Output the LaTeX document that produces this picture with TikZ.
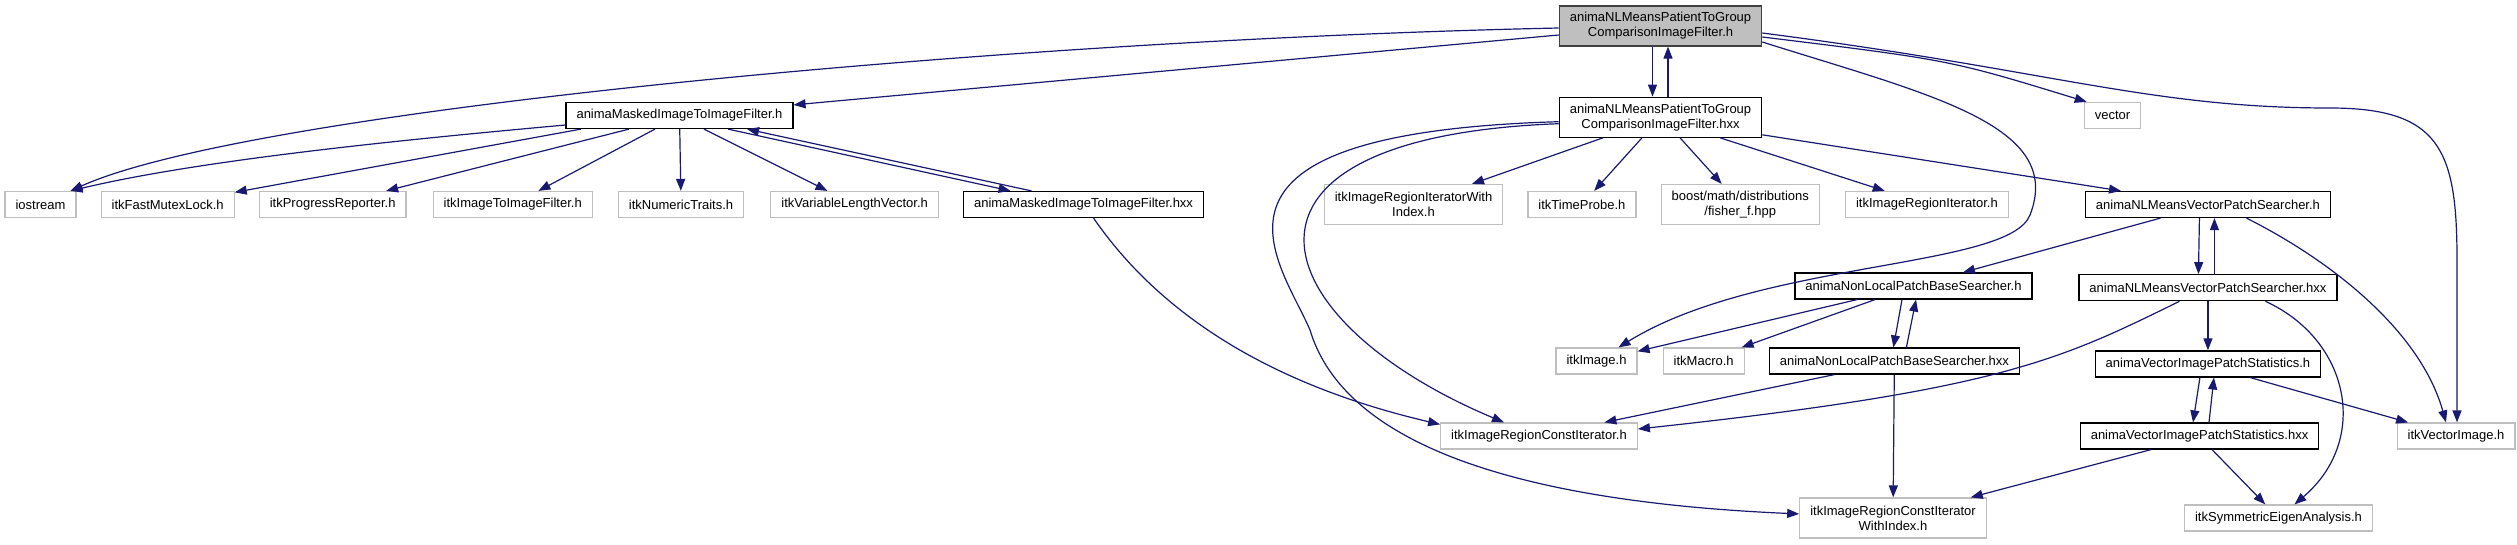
\documentclass[tikz,border=0pt]{standalone}
\usepackage{fontspec}
\setmainfont{Liberation Sans}
\usetikzlibrary{arrows.meta,positioning}

\definecolor{edgeblue}{HTML}{191970}
\definecolor{extgray}{HTML}{BFBFBF}
\definecolor{mainline}{HTML}{404040}

\begin{document}
\begin{tikzpicture}[
    x=1pt, y=-1pt,
    every node/.style={font=\fontsize{13}{15}\selectfont, inner xsep=10.5pt, inner ysep=2pt, minimum height=26pt, align=center},
    extbox/.style={rectangle, draw=extgray, line width=1.2pt, fill=white},
    filebox/.style={rectangle, draw=black, line width=1.2pt, fill=white},
    mainbox/.style={rectangle, draw=mainline, line width=1.2pt, fill=extgray, minimum height=40pt},
    twoline/.style={minimum height=40pt},
    arrow/.style={draw=edgeblue, line width=1.2pt, -{Triangle[length=12pt,width=9pt]}}
]
\useasboundingbox (0,0) rectangle (2517,544);

% Top: the header itself
\node [mainbox] (main) at (1660.5,26) {animaNLMeansPatientToGroup\\ComparisonImageFilter.h};
\node [filebox, twoline, below=50pt of main] (mainhxx) {animaNLMeansPatientToGroup\\ComparisonImageFilter.hxx};
\node [filebox] (maskh) at (679.5,115.5) {animaMaskedImageToImageFilter.h};
\node [extbox] (vector) at (2112.5,115.5) {vector};

% Second row of includes
\node [extbox] (iostream) at (40.5,204.5) {iostream};
\node [extbox, right=24pt of iostream] (mutexlock) {itkFastMutexLock.h};
\node [extbox, right=24pt of mutexlock] (progress) {itkProgressReporter.h};
\node [extbox, right=26pt of progress] (imgfilter) {itkImageToImageFilter.h};
\node [extbox, right=25pt of imgfilter] (numtraits) {itkNumericTraits.h};
\node [extbox, right=26pt of numtraits] (varvector) {itkVariableLengthVector.h};
\node [filebox, right=24pt of varvector] (maskhxx) {animaMaskedImageToImageFilter.hxx};
\node [extbox, twoline] (iterwi) at (1413.5,204.5) {itkImageRegionIteratorWith\\Index.h};
\node [extbox, right=24pt of iterwi] (timeprobe) {itkTimeProbe.h};
\node [extbox, twoline, right=24pt of timeprobe] (fisher) {boost/math/distributions\\/fisher\_f.hpp};
\node [extbox, right=25pt of fisher] (iter) {itkImageRegionIterator.h};
\node [filebox, right=76pt of iter] (searchh) {animaNLMeansVectorPatchSearcher.h};

% Searchers
\node [filebox] (baseh) at (1913.5,286) {animaNonLocalPatchBaseSearcher.h};
\node [filebox, below=56pt of searchh] (searchhxx) {animaNLMeansVectorPatchSearcher.hxx};

\node [extbox] (itkimage) at (1596.5,361) {itkImage.h};
\node [extbox, right=25pt of itkimage] (itkmacro) {itkMacro.h};
\node [filebox, right=24pt of itkmacro] (basehxx) {animaNonLocalPatchBaseSearcher.hxx};
\node [filebox, below=49pt of searchhxx] (statsh) {animaVectorImagePatchStatistics.h};

% Bottom rows
\node [extbox] (constiter) at (1539,436) {itkImageRegionConstIterator.h};
\node [filebox] (statshxx) at (2199.5,436) {animaVectorImagePatchStatistics.hxx};
\node [extbox] (vecimage) at (2456,436) {itkVectorImage.h};

\node [extbox, twoline] (constiterwi) at (1893,518) {itkImageRegionConstIterator\\WithIndex.h};
\node [extbox] (eigen) at (2278.5,518) {itkSymmetricEigenAnalysis.h};

% Main header includes
\draw [arrow] ([yshift=-2pt]main.west) .. controls (1000,40) and (250,110) .. ([xshift=-6pt]iostream.north east);
\draw [arrow] ([yshift=-9pt]main.west) -- ([yshift=-3pt]maskh.north east);
\draw [arrow] ([xshift=-8pt]main.south) -- ([xshift=-8pt]mainhxx.north);
\draw [arrow] ([xshift=7.5pt]mainhxx.north) -- ([xshift=7.5pt]main.south);
\draw [arrow] ([yshift=-11pt]main.east) .. controls (1950,60) .. ([xshift=3pt]vector.north west);
\draw [arrow] ([yshift=-16pt]main.east) .. controls (1930,95) and (2065,125) .. (2030,215)
    .. controls (2009,269) and (1760,260) .. (itkimage);
\draw [arrow] ([yshift=-7pt]main.east) .. controls (2050,70) and (2150,108) .. (2330,108)
    .. controls (2440,108) and (2457,150) .. (2457,260) -- ([xshift=1pt]vecimage.north);

% Implementation file includes
\draw [arrow] ([xshift=-57.5pt]mainhxx.south) -- (iterwi);
\draw [arrow] ([xshift=-18.5pt]mainhxx.south) -- (timeprobe);
\draw [arrow] ([xshift=19.5pt]mainhxx.south) -- (fisher);
\draw [arrow] ([xshift=59.5pt]mainhxx.south) -- (iter);
\draw [arrow] ([yshift=3pt]mainhxx.south east) -- (searchh);
\draw [arrow] ([yshift=-6.5pt]mainhxx.west) .. controls (1200,137) and (1260,320) .. ([xshift=-35pt]constiter.north);
\draw [arrow] ([yshift=-4.5pt]mainhxx.west) .. controls (1170,133) and (1280,260) .. (1310,330)
    .. controls (1340,430) and (1480,500) .. (constiterwi);

% Masked filter
\draw [arrow] ([yshift=-9.5pt]maskh.west) .. controls (400,140) and (200,160) .. ([xshift=-6pt]iostream.north east);
\draw [arrow] ([xshift=-98.5pt]maskh.south) -- (mutexlock);
\draw [arrow] ([xshift=-50.5pt]maskh.south) -- (progress);
\draw [arrow] ([xshift=-24.5pt]maskh.south) -- (imgfilter);
\draw [arrow] (maskh) -- (numtraits);
\draw [arrow] ([xshift=24.5pt]maskh.south) -- (varvector);
\draw [arrow] ([xshift=48.5pt]maskh.south) -- ([xshift=-73pt]maskhxx.north);
\draw [arrow] ([xshift=-52pt]maskhxx.north) -- ([xshift=67.5pt]maskh.south);
\draw [arrow] ([xshift=10pt]maskhxx.south) .. controls (1150,300) and (1250,380) .. ([yshift=-2pt]constiter.north west);

% Vector patch searcher
\draw [arrow] ([xshift=-47.5pt]searchh.south) -- (baseh);
\draw [arrow] ([xshift=-8.5pt]searchh.south) -- ([xshift=-9.5pt]searchhxx.north);
\draw [arrow] ([xshift=6.5pt]searchhxx.north) -- ([xshift=6.5pt]searchh.south);
\draw [arrow] ([xshift=38.5pt]searchh.south) .. controls (2330,260) and (2420,330) .. ([xshift=-10pt]vecimage.north);
\draw [arrow] ([xshift=-28.5pt]searchhxx.south) .. controls (2060,360) and (2000,390) .. ([yshift=7pt]constiter.east);
\draw [arrow] (searchhxx) -- (statsh);
\draw [arrow] ([xshift=57.5pt]searchhxx.south) .. controls (2350,340) and (2370,440) .. (eigen);

% Base searcher
\draw [arrow] ([xshift=-56.5pt]baseh.south) -- (itkimage);
\draw [arrow] ([xshift=-38.5pt]baseh.south) -- (itkmacro);
\draw [arrow] ([xshift=-11.5pt]baseh.south) -- ([xshift=-1pt]basehxx.north);
\draw [arrow] ([xshift=12pt]basehxx.north) -- ([xshift=2.5pt]baseh.south);
\draw [arrow] ([xshift=-60pt]basehxx.south) -- (constiter);
\draw [arrow] (basehxx) -- (constiterwi);

% Patch statistics
\draw [arrow] ([xshift=-8pt]statsh.south) -- ([xshift=-6.5pt]statshxx.north);
\draw [arrow] ([xshift=9.5pt]statshxx.north) -- ([xshift=6pt]statsh.south);
\draw [arrow] ([xshift=42pt]statsh.south) -- (vecimage);
\draw [arrow] ([xshift=-48.5pt]statshxx.south) -- (constiterwi);
\draw [arrow] ([xshift=12.5pt]statshxx.south) -- (eigen);

\end{tikzpicture}
\end{document}
